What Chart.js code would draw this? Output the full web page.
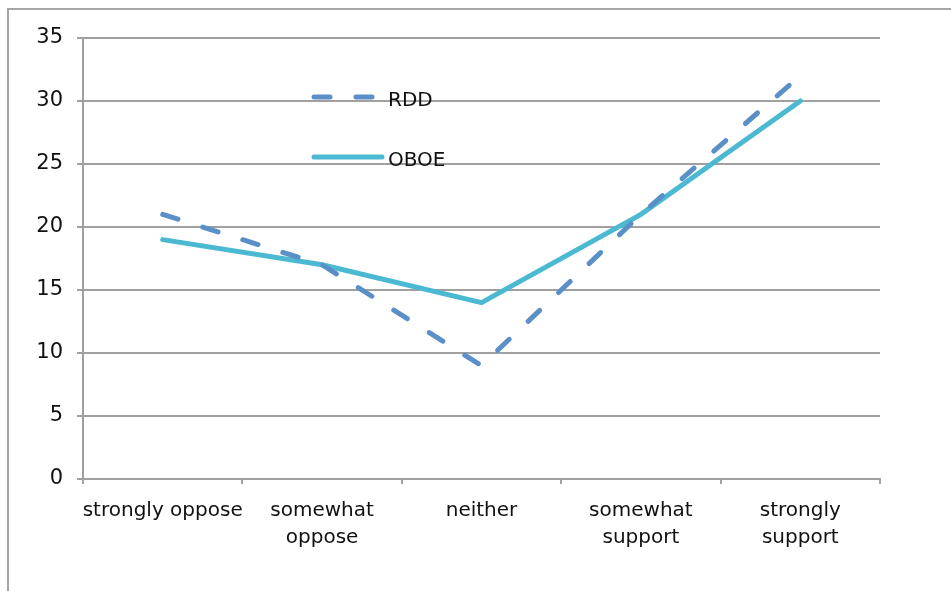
<!DOCTYPE html>
<html>
<head>
<meta charset="utf-8">
<script src="https://cdn.jsdelivr.net/npm/chart.js@4"></script>
<style>
  html, body { margin: 0; padding: 0; background: #fff; overflow: hidden; }
  #wrap { position: relative; width: 951px; height: 591px; }
  #frame { position: absolute; left: 7px; top: 8px; width: 960px; height: 600px;
           border-top: 2px solid #a6a6a6; border-left: 2px solid #a6a6a6; }
  canvas { position: absolute; left: 0; top: 0; }
</style>
</head>
<body>
<div id="wrap">
  <div id="frame"></div>
  <canvas id="myLineChart" width="951" height="591"></canvas>
</div>
<script>
// Data
const categories = ['strongly oppose', ['somewhat', 'oppose'], 'neither', ['somewhat', 'support'], ['strongly', 'support']];
const rdd = [21, 17, 9, 21, 32];
const oboe = [19, 17, 14, 21, 30];

const rddColor = '#5a8fc8';
const oboeColor = '#4bb9d1';
const gridColor = '#a0a0a0';
const fontFamily = '"DejaVu Sans", "Liberation Sans", sans-serif';

// Legend drawn inside the plot area, like the original
const insideLegend = {
    id: 'insideLegend',
    afterDatasetsDraw(chart) {
        const c = chart.ctx;
        const rows = [{ y: 100 }, { y: 160 }];
        chart.data.datasets.forEach((ds, i) => {
            const y = rows[i].y;
            c.save();
            c.strokeStyle = ds.borderColor;
            c.lineWidth = 5;
            c.lineCap = 'round';
            c.setLineDash(ds.borderDash || []);
            c.beginPath();
            c.moveTo(314, y - 3);
            c.lineTo(382, y - 3);
            c.stroke();
            c.setLineDash([]);
            c.fillStyle = '#111';
            c.font = '20px ' + fontFamily;
            c.textBaseline = 'middle';
            c.fillText(ds.label, 388, y + 1);
            c.restore();
        });
    }
};

const ctx = document.getElementById('myLineChart').getContext('2d');

new Chart(ctx, {
    type: 'line',
    data: {
        labels: categories,
        datasets: [
            {
                label: 'RDD',
                data: rdd,
                borderColor: rddColor,
                borderWidth: 5,
                borderDash: [16, 26],
                borderCapStyle: 'round',
                pointRadius: 0,
                fill: false,
                tension: 0
            },
            {
                label: 'OBOE',
                data: oboe,
                borderColor: oboeColor,
                borderWidth: 5,
                borderCapStyle: 'round',
                pointRadius: 0,
                fill: false,
                tension: 0
            }
        ]
    },
    options: {
        responsive: false,
        animation: false,
        layout: { padding: { left: 0, top: 38, right: 71, bottom: 0 } },
        plugins: {
            legend: { display: false },
            tooltip: { enabled: false }
        },
        scales: {
            x: {
                offset: true,
                grid: {
                    offset: true,
                    drawOnChartArea: false,
                    drawTicks: true,
                    tickLength: 5,
                    color: gridColor,
                    lineWidth: 2
                },
                border: { color: gridColor, width: 2 },
                ticks: {
                    color: '#111',
                    padding: 13,
                    maxRotation: 0,
                    autoSkip: false,
                    font: { family: fontFamily, size: 20, lineHeight: 1.35 }
                },
                afterFit(scale) { scale.height = 112; }
            },
            y: {
                min: 0,
                max: 35,
                grid: {
                    color: gridColor,
                    lineWidth: 2,
                    drawTicks: true,
                    tickLength: 6
                },
                border: { color: gridColor, width: 2 },
                ticks: {
                    stepSize: 5,
                    color: '#111',
                    padding: 14,
                    font: { family: fontFamily, size: 21 }
                },
                afterFit(scale) { scale.width = 83; }
            }
        }
    },
    plugins: [insideLegend]
});
</script>
</body>
</html>
